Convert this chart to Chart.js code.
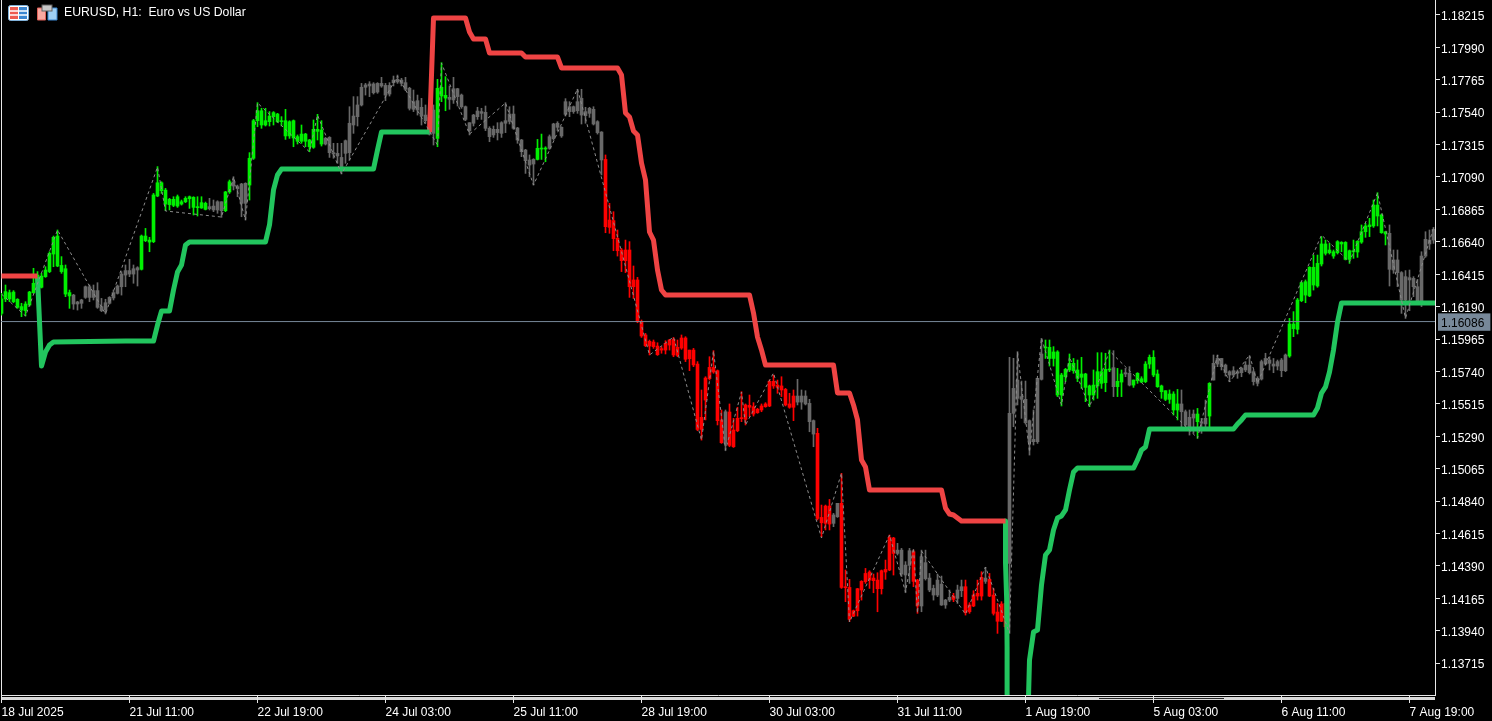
<!DOCTYPE html>
<html>
<head>
<meta charset="utf-8">
<title>EURUSD, H1</title>
<script src="https://cdn.jsdelivr.net/npm/chart.js@4"></script>
<style>
  html, body { margin: 0; padding: 0; background: #000; overflow: hidden; }
  #wrap { position: relative; width: 1492px; height: 721px; background: #000; }
  #chart { position: absolute; left: 0; top: 0; }
  #symbol { position: absolute; left: 64px; top: 5px; color: #fff; font: 12.25px "Liberation Sans", sans-serif; white-space: pre; }
  #icons { position: absolute; left: 8px; top: 4px; }
  .leftline { position: absolute; left: 1px; top: 0; width: 1px; height: 696px; background: #e8e8e8; }
  .scrollbar { position: absolute; left: 1px; top: 697px; width: 1434px; height: 3px; background: #d8d8d8; }
  .scrollthumb { position: absolute; left: 1099px; top: 698px; width: 125px; height: 1px; background: #222; }
</style>
</head>
<body>
<div id="wrap">
  <div class="leftline"></div>
  <div class="scrollbar"></div>
  <div class="scrollthumb"></div>
  <canvas id="chart" width="1492" height="721"></canvas>
  <svg id="icons" width="52" height="18" viewBox="0 0 52 18">
    <rect x="0.5" y="1.5" width="20" height="15" rx="2" fill="#fff" stroke="#7fb0d8"/>
    <rect x="2" y="3" width="8" height="12" fill="#ee5a50"/>
    <rect x="11" y="3" width="8" height="12" fill="#3a86d0"/>
    <path d="M2 7h17M2 11h17" stroke="#fff" stroke-width="1.4"/>
    <path d="M29.5 4h8v12h-8z" fill="#f8a8a0" stroke="#e06058"/>
    <path d="M40 4h9v12h-9z" fill="#9fd0f4" stroke="#3a86d0"/>
    <rect x="34" y="1" width="10" height="6" fill="#c8c8c8" stroke="#606060"/>
  </svg>
  <div id="symbol">EURUSD, H1:  Euro vs US Dollar</div>
</div>

<script>
// candle values, one entry per H1 bar
const bodyTops = [
1.16243,1.16294,1.16287,1.16291,1.16241,1.16190,1.16208,1.16291,1.16352,1.16409,
1.16402,1.16444,1.16560,1.16671,1.16680,1.16476,1.16453,1.16287,1.16270,1.16222,
1.16236,1.16328,1.16328,1.16301,1.16301,1.16190,1.16217,1.16254,1.16287,1.16333,
1.16416,1.16440,1.16440,1.16453,1.16460,1.16680,1.16680,1.16652,1.16965,1.17050,
1.17050,1.16999,1.16935,1.16935,1.16953,1.16918,1.16942,1.16953,1.16949,1.16884,
1.16912,1.16907,1.16884,1.16888,1.16918,1.16918,1.16986,1.17057,1.17055,1.17023,
1.17041,1.17046,1.17220,1.17481,1.17550,1.17550,1.17481,1.17513,1.17537,1.17527,
1.17481,1.17481,1.17474,1.17481,1.17370,1.17388,1.17388,1.17347,1.17421,1.17421,
1.17416,1.17358,1.17365,1.17259,1.17254,1.17226,1.17342,1.17463,1.17513,1.17590,
1.17713,1.17729,1.17736,1.17736,1.17740,1.17740,1.17726,1.17726,1.17763,1.17768,
1.17763,1.17745,1.17706,1.17613,1.17620,1.17574,1.17520,1.17504,1.17555,1.17706,
1.17713,1.17657,1.17643,1.17703,1.17703,1.17659,1.17578,1.17467,1.17520,1.17548,
1.17544,1.17539,1.17428,1.17421,1.17421,1.17467,1.17481,1.17527,1.17527,1.17430,
1.17347,1.17277,1.17208,1.17212,1.17289,1.17291,1.17291,1.17370,1.17458,1.17463,
1.17435,1.17613,1.17578,1.17578,1.17613,1.17636,1.17544,1.17567,1.17560,1.17474,
1.17402,1.17212,1.16791,1.16787,1.16664,1.16583,1.16583,1.16583,1.16375,1.16375,
1.16085,1.15993,1.15949,1.15944,1.15916,1.15898,1.15935,1.15958,1.15963,1.15907,
1.15972,1.15972,1.15888,1.15888,1.15791,1.15421,1.15694,1.15768,1.15768,1.15745,
1.15403,1.15460,1.15458,1.15333,1.15414,1.15416,1.15507,1.15504,1.15495,1.15477,
1.15500,1.15514,1.15671,1.15671,1.15645,1.15639,1.15615,1.15514,1.15569,1.15569,
1.15569,1.15569,1.15518,1.15398,1.15310,1.14726,1.14805,1.14805,1.14743,1.14824,
1.14824,1.14245,1.14240,1.14078,1.14231,1.14282,1.14337,1.14347,1.14305,1.14291,
1.14356,1.14365,1.14588,1.14583,1.14499,1.14499,1.14395,1.14495,1.14488,1.14291,
1.14453,1.14412,1.14305,1.14233,1.14291,1.14263,1.14152,1.14171,1.14180,1.14222,
1.14245,1.14245,1.14118,1.14187,1.14199,1.14310,1.14305,1.14296,1.14187,1.14069,
1.14125,1.14129,1.15449,1.15622,1.15680,1.15565,1.15546,1.15398,1.15268,1.15692,
1.15861,1.15907,1.15907,1.15875,1.15875,1.15715,1.15754,1.15796,1.15796,1.15750,
1.15722,1.15722,1.15639,1.15645,1.15738,1.15738,1.15754,1.15754,1.15766,1.15671,
1.15722,1.15731,1.15727,1.15680,1.15727,1.15689,1.15791,1.15838,1.15838,1.15722,
1.15639,1.15606,1.15583,1.15583,1.15514,1.15514,1.15460,1.15421,1.15444,1.15444,
1.15391,1.15414,1.15657,1.15796,1.15830,1.15830,1.15784,1.15738,1.15745,1.15738,
1.15761,1.15784,1.15784,1.15738,1.15692,1.15808,1.15830,1.15819,1.15791,1.15808,
1.15819,1.15854,1.16069,1.16069,1.16236,1.16356,1.16363,1.16463,1.16463,1.16490,
1.16625,1.16625,1.16583,1.16571,1.16641,1.16636,1.16636,1.16578,1.16576,1.16643,
1.16710,1.16750,1.16757,1.16895,1.16895,1.16826,1.16710,1.16699,1.16514,1.16514,
1.16426,1.16398,1.16391,1.16386,1.16328,1.16541,1.16657,1.16652,1.16726];

const bodyBottoms = [
1.16143,1.16243,1.16243,1.16224,1.16185,1.16166,1.16162,1.16201,1.16287,1.16352,
1.16324,1.16398,1.16433,1.16555,1.16472,1.16433,1.16277,1.16264,1.16208,1.16208,
1.16213,1.16254,1.16254,1.16254,1.16185,1.16162,1.16166,1.16213,1.16250,1.16282,
1.16328,1.16409,1.16416,1.16416,1.16444,1.16449,1.16648,1.16638,1.16641,1.16958,
1.16995,1.16902,1.16898,1.16893,1.16888,1.16902,1.16918,1.16939,1.16879,1.16877,
1.16875,1.16865,1.16870,1.16861,1.16861,1.16856,1.16856,1.16986,1.17027,1.17009,
1.16907,1.16907,1.17034,1.17220,1.17481,1.17451,1.17451,1.17474,1.17509,1.17474,
1.17474,1.17375,1.17375,1.17361,1.17338,1.17338,1.17338,1.17300,1.17296,1.17407,
1.17319,1.17319,1.17259,1.17250,1.17236,1.17162,1.17254,1.17259,1.17451,1.17509,
1.17590,1.17713,1.17722,1.17675,1.17680,1.17722,1.17659,1.17666,1.17745,1.17750,
1.17740,1.17699,1.17567,1.17560,1.17555,1.17513,1.17481,1.17388,1.17393,1.17358,
1.17652,1.17638,1.17629,1.17625,1.17648,1.17578,1.17490,1.17412,1.17463,1.17509,
1.17532,1.17428,1.17370,1.17382,1.17398,1.17393,1.17463,1.17476,1.17428,1.17347,
1.17266,1.17203,1.17173,1.17180,1.17212,1.17284,1.17284,1.17289,1.17356,1.17435,
1.17375,1.17525,1.17544,1.17544,1.17550,1.17520,1.17516,1.17532,1.17458,1.17398,
1.17208,1.16745,1.16740,1.16662,1.16578,1.16509,1.16509,1.16328,1.16328,1.16085,
1.15986,1.15919,1.15916,1.15912,1.15856,1.15888,1.15888,1.15923,1.15854,1.15851,
1.15902,1.15824,1.15828,1.15785,1.15337,1.15337,1.15541,1.15689,1.15736,1.15398,
1.15245,1.15240,1.15226,1.15217,1.15328,1.15412,1.15407,1.15491,1.15444,1.15453,
1.15472,1.15495,1.15500,1.15639,1.15629,1.15611,1.15507,1.15491,1.15491,1.15527,
1.15527,1.15514,1.15391,1.15305,1.14719,1.14689,1.14685,1.14680,1.14685,1.14731,
1.14240,1.14238,1.14018,1.14041,1.14078,1.14222,1.14280,1.14291,1.14287,1.14231,
1.14231,1.14347,1.14361,1.14476,1.14476,1.14333,1.14326,1.14393,1.14282,1.14111,
1.14111,1.14301,1.14222,1.14187,1.14187,1.14118,1.14118,1.14152,1.14157,1.14164,
1.14217,1.14064,1.14071,1.14111,1.14180,1.14180,1.14282,1.14180,1.14060,1.14005,
1.14005,1.13967,1.14407,1.15449,1.15553,1.15546,1.15384,1.15252,1.15252,1.15252,
1.15685,1.15903,1.15830,1.15830,1.15576,1.15576,1.15703,1.15750,1.15745,1.15692,
1.15699,1.15629,1.15576,1.15576,1.15639,1.15657,1.15662,1.15750,1.15634,1.15634,
1.15666,1.15722,1.15645,1.15645,1.15676,1.15666,1.15669,1.15791,1.15715,1.15634,
1.15599,1.15546,1.15546,1.15472,1.15472,1.15460,1.15368,1.15356,1.15416,1.15391,
1.15380,1.15375,1.15430,1.15680,1.15791,1.15773,1.15731,1.15715,1.15715,1.15727,
1.15731,1.15750,1.15731,1.15669,1.15657,1.15687,1.15791,1.15796,1.15777,1.15777,
1.15745,1.15745,1.15847,1.16037,1.16032,1.16231,1.16270,1.16264,1.16340,1.16333,
1.16486,1.16560,1.16564,1.16541,1.16564,1.16625,1.16518,1.16518,1.16571,1.16569,
1.16638,1.16710,1.16745,1.16750,1.16819,1.16703,1.16694,1.16449,1.16444,1.16426,
1.16236,1.16236,1.16375,1.16328,1.16224,1.16224,1.16541,1.16625,1.16652];

const highs = [
1.16282,1.16340,1.16305,1.16301,1.16245,1.16213,1.16224,1.16296,1.16456,1.16433,
1.16421,1.16467,1.16571,1.16680,1.16722,1.16537,1.16479,1.16305,1.16275,1.16227,
1.16241,1.16333,1.16340,1.16340,1.16356,1.16247,1.16241,1.16259,1.16305,1.16340,
1.16433,1.16479,1.16518,1.16479,1.16467,1.16687,1.16733,1.16671,1.16976,1.17162,
1.17057,1.17011,1.16942,1.16953,1.16965,1.16930,1.16953,1.16958,1.16953,1.16953,
1.16953,1.16916,1.16942,1.16930,1.16925,1.16918,1.16990,1.17069,1.17092,1.17034,
1.17046,1.17050,1.17259,1.17490,1.17606,1.17567,1.17567,1.17544,1.17544,1.17532,
1.17509,1.17560,1.17481,1.17486,1.17382,1.17451,1.17393,1.17351,1.17486,1.17525,
1.17481,1.17365,1.17370,1.17324,1.17324,1.17324,1.17347,1.17578,1.17648,1.17648,
1.17740,1.17740,1.17752,1.17745,1.17745,1.17782,1.17740,1.17745,1.17791,1.17798,
1.17775,1.17782,1.17713,1.17694,1.17659,1.17636,1.17590,1.17555,1.17590,1.17768,
1.17884,1.17787,1.17722,1.17782,1.17706,1.17666,1.17583,1.17467,1.17525,1.17574,
1.17567,1.17583,1.17439,1.17444,1.17467,1.17474,1.17606,1.17578,1.17583,1.17435,
1.17351,1.17282,1.17243,1.17217,1.17351,1.17388,1.17300,1.17382,1.17463,1.17474,
1.17439,1.17634,1.17613,1.17583,1.17699,1.17699,1.17574,1.17574,1.17578,1.17481,
1.17405,1.17243,1.16907,1.16849,1.16722,1.16594,1.16652,1.16641,1.16472,1.16393,
1.16097,1.16004,1.15958,1.15958,1.15939,1.15912,1.15953,1.15963,1.15976,1.15958,
1.15993,1.15981,1.15888,1.15900,1.15808,1.15611,1.15703,1.15842,1.15884,1.15750,
1.15472,1.15472,1.15514,1.15414,1.15491,1.15599,1.15514,1.15576,1.15523,1.15484,
1.15514,1.15523,1.15680,1.15715,1.15680,1.15703,1.15622,1.15588,1.15611,1.15685,
1.15611,1.15606,1.15546,1.15403,1.15345,1.14812,1.14812,1.14851,1.14754,1.14824,
1.15032,1.14361,1.14296,1.14083,1.14233,1.14287,1.14372,1.14356,1.14333,1.14342,
1.14361,1.14430,1.14604,1.14588,1.14546,1.14511,1.14419,1.14511,1.14499,1.14296,
1.14499,1.14499,1.14337,1.14256,1.14333,1.14319,1.14157,1.14222,1.14199,1.14256,
1.14291,1.14291,1.14134,1.14217,1.14291,1.14349,1.14379,1.14337,1.14233,1.14129,
1.14141,1.14152,1.15838,1.15831,1.15877,1.15673,1.15673,1.15403,1.15472,1.15692,
1.15969,1.15958,1.15958,1.15912,1.15884,1.15727,1.15761,1.15861,1.15830,1.15819,
1.15838,1.15727,1.15645,1.15750,1.15870,1.15870,1.15866,1.15888,1.15884,1.15761,
1.15750,1.15761,1.15773,1.15680,1.15731,1.15703,1.15808,1.15854,1.15884,1.15750,
1.15645,1.15606,1.15611,1.15599,1.15615,1.15611,1.15472,1.15472,1.15472,1.15483,
1.15414,1.15541,1.15662,1.15854,1.15854,1.15830,1.15791,1.15745,1.15773,1.15750,
1.15768,1.15808,1.15847,1.15750,1.15703,1.15819,1.15866,1.15842,1.15830,1.15819,
1.15830,1.15861,1.16108,1.16155,1.16247,1.16363,1.16375,1.16467,1.16548,1.16548,
1.16676,1.16652,1.16629,1.16583,1.16648,1.16641,1.16641,1.16583,1.16652,1.16648,
1.16757,1.16768,1.16803,1.16930,1.16981,1.16833,1.16710,1.16757,1.16583,1.16583,
1.16433,1.16440,1.16444,1.16398,1.16379,1.16571,1.16710,1.16722,1.16740];

const lows = [
1.16131,1.16224,1.16224,1.16217,1.16178,1.16120,1.16125,1.16194,1.16282,1.16340,
1.16319,1.16393,1.16426,1.16467,1.16467,1.16421,1.16259,1.16178,1.16171,1.16166,
1.16178,1.16247,1.16224,1.16236,1.16178,1.16155,1.16139,1.16208,1.16236,1.16277,
1.16270,1.16328,1.16398,1.16352,1.16333,1.16444,1.16641,1.16571,1.16634,1.16953,
1.16976,1.16856,1.16861,1.16884,1.16879,1.16895,1.16912,1.16872,1.16826,1.16819,
1.16872,1.16861,1.16861,1.16849,1.16838,1.16810,1.16849,1.16976,1.17000,1.16953,
1.16814,1.16791,1.16930,1.17212,1.17439,1.17428,1.17444,1.17444,1.17451,1.17467,
1.17444,1.17351,1.17358,1.17300,1.17319,1.17324,1.17300,1.17266,1.17289,1.17347,
1.17305,1.17312,1.17226,1.17220,1.17185,1.17111,1.17185,1.17208,1.17393,1.17444,
1.17583,1.17659,1.17648,1.17666,1.17671,1.17713,1.17620,1.17652,1.17722,1.17740,
1.17722,1.17689,1.17555,1.17544,1.17520,1.17451,1.17463,1.17381,1.17312,1.17300,
1.17613,1.17550,1.17560,1.17601,1.17583,1.17567,1.17481,1.17382,1.17444,1.17490,
1.17490,1.17412,1.17335,1.17365,1.17347,1.17365,1.17398,1.17458,1.17421,1.17324,
1.17231,1.17115,1.17092,1.17034,1.17208,1.17212,1.17196,1.17282,1.17347,1.17412,
1.17365,1.17513,1.17509,1.17532,1.17532,1.17458,1.17463,1.17504,1.17451,1.17388,
1.17104,1.16703,1.16699,1.16578,1.16541,1.16433,1.16426,1.16254,1.16247,1.16078,
1.15976,1.15912,1.15854,1.15900,1.15851,1.15866,1.15861,1.15888,1.15842,1.15842,
1.15893,1.15808,1.15745,1.15773,1.15328,1.15263,1.15403,1.15680,1.15727,1.15368,
1.15240,1.15189,1.15217,1.15212,1.15321,1.15391,1.15368,1.15426,1.15430,1.15449,
1.15460,1.15491,1.15495,1.15622,1.15588,1.15565,1.15500,1.15484,1.15398,1.15507,
1.15477,1.15507,1.15321,1.15217,1.14708,1.14592,1.14639,1.14639,1.14662,1.14726,
1.14233,1.14141,1.14002,1.14037,1.14041,1.14152,1.14268,1.14233,1.14203,1.14071,
1.14194,1.14296,1.14356,1.14326,1.14465,1.14315,1.14203,1.14268,1.14245,1.14060,
1.14071,1.14291,1.14210,1.14152,1.14176,1.14115,1.14095,1.14141,1.14141,1.14129,
1.14176,1.14048,1.14060,1.14106,1.14152,1.14152,1.14268,1.14176,1.14048,1.13921,
1.14002,1.13956,1.13921,1.15356,1.15507,1.15414,1.15375,1.15159,1.15229,1.15240,
1.15680,1.15830,1.15777,1.15777,1.15565,1.15500,1.15669,1.15738,1.15727,1.15669,
1.15622,1.15530,1.15495,1.15541,1.15553,1.15622,1.15599,1.15738,1.15565,1.15565,
1.15565,1.15703,1.15639,1.15629,1.15657,1.15662,1.15662,1.15761,1.15703,1.15629,
1.15553,1.15537,1.15518,1.15437,1.15403,1.15356,1.15333,1.15298,1.15310,1.15275,
1.15310,1.15356,1.15345,1.15680,1.15773,1.15750,1.15708,1.15669,1.15703,1.15692,
1.15703,1.15738,1.15722,1.15645,1.15639,1.15680,1.15784,1.15750,1.15731,1.15750,
1.15703,1.15738,1.15838,1.15981,1.16000,1.16224,1.16217,1.16259,1.16305,1.16324,
1.16472,1.16548,1.16555,1.16525,1.16555,1.16571,1.16514,1.16490,1.16525,1.16532,
1.16629,1.16671,1.16676,1.16740,1.16750,1.16699,1.16618,1.16333,1.16421,1.16328,
1.16143,1.16108,1.16162,1.16259,1.16213,1.16190,1.16532,1.16587,1.16629];

// which colour state each stretch of candles is in: [state, number of bars]
const stateRuns = [
["up",18],["flat",17],["up",17],["flat",4],["up",2],["flat",4],["up",19],["flat",28],["up",3],["flat",22],
["up",3],["flat",14],["down",30],["flat",1],["down",17],["flat",5],["down",4],["flat",2],["down",14],["flat",4],
["down",2],["flat",8],["down",1],["flat",2],["down",5],["flat",1],["down",5],["flat",9],["up",17],["flat",1],
["up",2],["flat",2],["up",12],["flat",4],["up",1],["flat",2],["up",1],["flat",19],["up",25],["flat",12]];

// trend stop indicator, corners only
const stopRed1Bars = [0, 9];
const stopRed1Prices = [1.16402, 1.16402];
const stopGreen1Bars = [9,10,11,12,13,31,38,39,40,42,43,44,45,46,47,66,67,68,69,70,93,94,95,107];
const stopGreen1Prices = [1.16395,1.15777,1.15875,1.15923,1.15944,1.15951,1.15951,1.16062,1.16159,1.16159,1.16305,1.16430,1.16479,1.16618,1.16639,1.16639,1.16757,1.17000,1.17104,1.17145,1.17145,1.17277,1.17402,1.17402];
const stopRed2Bars = [107,108,116,117,118,121,122,130,131,139,140,154,155,156,157,158,159,160,161,162,163,164,165,166,187,188,189,190,191,208,209,212,213,214,215,216,217,235,236,237,238,240,251];
const stopRed2Prices = [1.17402,1.18194,1.18194,1.18097,1.18048,1.18048,1.17951,1.17951,1.17923,1.17923,1.17847,1.17847,1.17798,1.17534,1.17507,1.17409,1.17382,1.17187,1.17069,1.16708,1.16652,1.16444,1.16305,1.16271,1.16271,1.16146,1.15979,1.15889,1.15784,1.15784,1.15590,1.15590,1.15507,1.15403,1.15125,1.15076,1.14916,1.14916,1.14791,1.14750,1.14743,1.14701,1.14701];
const stopGreen2Bars = [251,251,251.3,251.4,251.4,256.6,257,258,259,260,261,262,263,264,265,266,267,268,269,283,284,285,286,287,308,309,310,311,328,329,330,331,332,333,334,335,359];
const stopGreen2Prices = [1.14701,1.14410,1.14152,1.13826,1.13319,1.13319,1.13736,1.13930,1.13944,1.14257,1.14465,1.14500,1.14639,1.14722,1.14736,1.14778,1.14916,1.15041,1.15069,1.15069,1.15125,1.15194,1.15215,1.15340,1.15340,1.15375,1.15403,1.15437,1.15437,1.15486,1.15590,1.15632,1.15736,1.15889,1.16083,1.16215,1.16215];

// zigzag swing points
const zigzagBars = [0,6,14,26,39,41,55,58,61,64,77,79,85,99,109,110,117,126,133,144,162,168,175,178,181,185,186,193,205,210,212,222,226,228,229,230,241,246,252,254,257,260,265,267,272,277,299,304,307,312,314,330,337,344,351,358];
const zigzagPrices = [1.16277,1.16125,1.16722,1.16139,1.17159,1.16854,1.16812,1.17090,1.16791,1.17604,1.17264,1.17520,1.17111,1.17791,1.17312,1.17881,1.17388,1.17604,1.17034,1.17701,1.15854,1.15979,1.15264,1.15882,1.15194,1.15597,1.15368,1.15729,1.14583,1.15034,1.14000,1.14604,1.14208,1.14514,1.14062,1.14493,1.14055,1.14382,1.13923,1.15875,1.15180,1.15972,1.15507,1.15840,1.15493,1.15882,1.15277,1.15854,1.15666,1.15854,1.15659,1.16687,1.16500,1.16979,1.16111,1.16736];

const currentPrice = 1.16086;
const priceTicks = ["1.18215","1.17990","1.17765","1.17540","1.17315","1.17090","1.16865","1.16640","1.16415","1.16190","1.15965","1.15740","1.15515","1.15290","1.15065","1.14840","1.14615","1.14390","1.14165","1.13940","1.13715"];
const timeTickBars = [0,32,64,96,128,160,192,224,256,288,320,352];
const timeTickLabels = ["18 Jul 2025","21 Jul 11:00","22 Jul 19:00","24 Jul 03:00","25 Jul 11:00","28 Jul 19:00","30 Jul 03:00","31 Jul 11:00","1 Aug 19:00","5 Aug 03:00","6 Aug 11:00","7 Aug 19:00"];

const stateColors = { up: "#00f000", down: "#ff0000", flat: "#696969" };
const barColors = [];
stateRuns.forEach(([state, count]) => {
  for (let i = 0; i < count; i++) barColors.push(stateColors[state]);
});

const points = (bars, prices) => bars.map((b, i) => ({ x: b, y: prices[i] }));

const stopLine = (bars, prices, color) => ({
  type: "line",
  data: points(bars, prices),
  borderColor: color,
  borderWidth: 5,
  borderJoinStyle: "round",
  pointRadius: 0,
  order: 2,
});

// the axis would otherwise reserve room for half of its first label
const noLabelPadding = (scale) => {
  scale.paddingTop = 0;
  scale.paddingBottom = 0;
  scale.paddingLeft = 0;
  scale.paddingRight = 0;
};

const labelFont = { family: "'Liberation Sans', sans-serif", size: 12 };

new Chart(document.getElementById("chart"), {
  type: "bar",
  data: {
    datasets: [
      {
        data: bodyTops.map((t, i) => ({ x: i, y: [highs[i], lows[i]] })),
        backgroundColor: barColors,
        barThickness: 1,
        grouped: false,
        order: 5,
      },
      {
        data: bodyTops.map((t, i) => ({ x: i, y: [t, bodyBottoms[i]] })),
        backgroundColor: barColors,
        barThickness: 3,
        minBarLength: 1,
        grouped: false,
        order: 4,
      },
      {
        type: "line",
        data: [{ x: -1, y: currentPrice }, { x: 360, y: currentPrice }],
        borderColor: "#778899",
        borderWidth: 1,
        pointRadius: 0,
        order: 3,
      },
      stopLine(stopRed1Bars, stopRed1Prices, "#ef4444"),
      stopLine(stopGreen1Bars, stopGreen1Prices, "#22c55e"),
      stopLine(stopRed2Bars, stopRed2Prices, "#ef4444"),
      stopLine(stopGreen2Bars, stopGreen2Prices, "#22c55e"),
      {
        type: "line",
        data: points(zigzagBars, zigzagPrices),
        borderColor: "#8c8c8c",
        borderWidth: 1,
        borderDash: [3, 3],
        pointRadius: 0,
        order: 1,
      },
    ],
  },
  options: {
    responsive: false,
    animation: false,
    layout: { autoPadding: false, padding: { left: 1, top: 0, right: 0, bottom: 0 } },
    plugins: { legend: { display: false }, tooltip: { enabled: false } },
    scales: {
      x: {
        type: "linear",
        position: "bottom",
        min: -0.125,
        max: 358.375,
        offset: false,
        border: { color: "#e8e8e8" },
        grid: { offset: false, drawOnChartArea: false, color: "#e8e8e8", tickLength: 8 },
        afterFit: (scale) => { scale.height = 26; noLabelPadding(scale); },
        afterBuildTicks: (scale) => { scale.ticks = timeTickBars.map((v) => ({ value: v })); },
        ticks: {
          color: "#ffffff",
          font: labelFont,
          align: "start",
          autoSkip: false,
          maxRotation: 0,
          padding: 2,
          callback: (value) => timeTickLabels[timeTickBars.indexOf(value)],
        },
      },
      y: {
        type: "linear",
        position: "right",
        min: 1.13493,
        max: 1.18319,
        border: { color: "#e8e8e8" },
        grid: {
          drawOnChartArea: false,
          tickLength: 5,
          color: (c) => (c.tick && c.tick.value === currentPrice ? "#000000" : "#e8e8e8"),
        },
        afterFit: (scale) => { scale.width = 57; noLabelPadding(scale); },
        afterBuildTicks: (scale) => {
          scale.ticks = priceTicks.map((p) => ({ value: parseFloat(p) }));
          scale.ticks.push({ value: currentPrice });
        },
        ticks: {
          font: labelFont,
          crossAlign: "near",
          autoSkip: false,
          padding: 1,
          labelOffset: 2,
          color: (c) => (c.tick.value === currentPrice ? "#000000" : "#ffffff"),
          showLabelBackdrop: (c) => c.tick.value === currentPrice,
          backdropColor: "#778899",
          backdropPadding: { left: 3, right: 6, top: 3, bottom: 0 },
          callback: (value) => value.toFixed(5),
        },
      },
    },
  },
});
</script>
</body>
</html>
